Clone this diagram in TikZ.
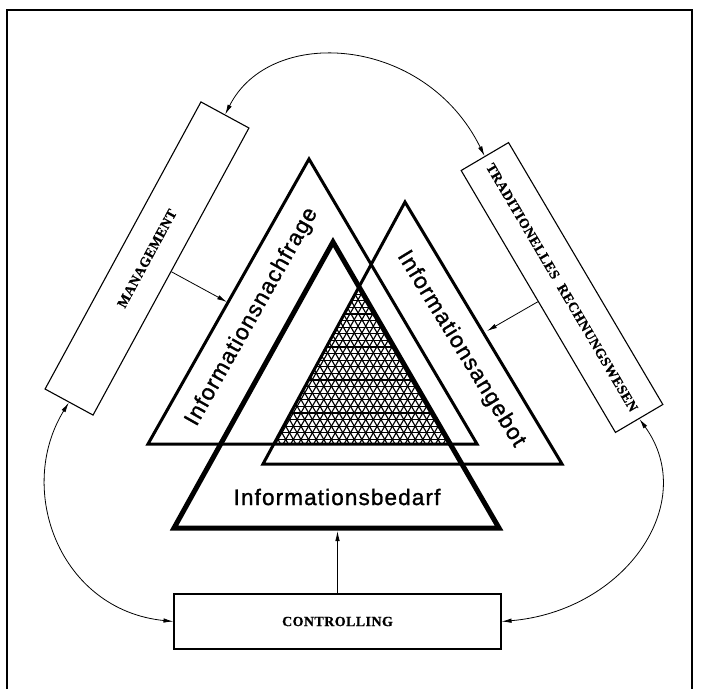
\documentclass[tikz,border=0pt]{standalone}
\usepackage{fontspec}
\setmainfont{Liberation Serif}
\newfontfamily\trifont[LetterSpace=5,FakeBold=1.2]{Liberation Sans}
\newfontfamily\boxfont[LetterSpace=3,FakeBold=0.8]{Liberation Serif}
\usetikzlibrary{arrows.meta}
\begin{document}
\begin{tikzpicture}[x=1pt,y=-1pt,
  boxnode/.style={draw, line width=1.1pt, minimum width=#1, minimum height=55pt, inner sep=0pt,
    font=\boxfont\bfseries\fontsize{14}{16}\selectfont},
  trilabel/.style={font=\trifont\fontsize{22.5}{24}\selectfont, inner sep=0pt},
  tri/.style={line width=3pt},
  trithick/.style={line width=5pt},
  arr/.style={-{Latex[length=10pt,width=4.5pt]}, line width=0.8pt},
  darr/.style={{Latex[length=10pt,width=4.5pt]}-{Latex[length=10pt,width=4.5pt]}, line width=0.8pt},
  hatch/.style={line width=1.15pt},
  frame/.style={line width=1.3pt}
]
\useasboundingbox (0,0) rectangle (702,689);
% frame (open at the bottom)
\draw[frame] (7,689) -- (7,10) -- (692,10) -- (692,689);

% hatched common region
\begin{scope}
  \clip (148,444) -- (309,159) -- (477,444) -- cycle;
  \clip (263,464) -- (405,202) -- (562,464) -- cycle;
  \clip (174,528) -- (333,242) -- (499,528) -- cycle;
  \foreach \k in {0,...,28} \draw[hatch] (250,{446-\k*6.6}) -- (520,{446-\k*6.6});
  \foreach \k in {-26,...,26} \draw[hatch] ({360+\k*7.62-10},460.3) -- ({360+\k*7.62+110},250.5);
  \foreach \k in {-26,...,26} \draw[hatch] ({363.8+\k*7.62+10},460.3) -- ({363.8+\k*7.62-110},250.5);
\end{scope}

% triangles
\draw[tri] (148,444) -- (309,159) -- (477,444) -- cycle;
\draw[tri] (263,464) -- (405,202) -- (562,464) -- cycle;
\draw[trithick] (174,528) -- (333,242) -- (499,528) -- cycle;

% triangle labels
\node[trilabel, rotate=60.5] (nfText) at (252,317) {Informationsnachfrage};
\node[trilabel, rotate=-58.5] (agText) at (461,349) {Informationsangebot};
\node[trilabel] (bdText) at (337,497) {Informationsbedarf};

% boxes
\node[boxnode=326.7pt, minimum height=54.6pt, rotate=61.5] (mgmt) at (147,258.5) {MANAGEMENT};
\node[boxnode=304pt, rotate=-59.5] (rb) at (562,287.5) {TRADITIONELLES\hspace{0.6em}RECHNUNGSWESEN};
\node[boxnode=327pt] (ctrl) at (337.5,621.5) {CONTROLLING};

% arrow targets on the triangles
\coordinate (nfIn) at (227,302);
\coordinate (agIn) at (487,331);
\coordinate (bdIn) at (337.5,531);

\draw[arr] (mgmt.south) -- (nfIn);
\draw[arr] (rb.south) -- (agIn);
\draw[arr] (ctrl.north) -- (bdIn);

% curved connections
\draw[darr] (mgmt.east) .. controls (270,25) and (425,35) .. (rb.west);
\draw[darr] (mgmt.west) .. controls (15,490) and (60,610) .. (ctrl.west);
\draw[darr] (rb.east) .. controls (700,503) and (625,611) .. (ctrl.east);
\end{tikzpicture}
\end{document}
